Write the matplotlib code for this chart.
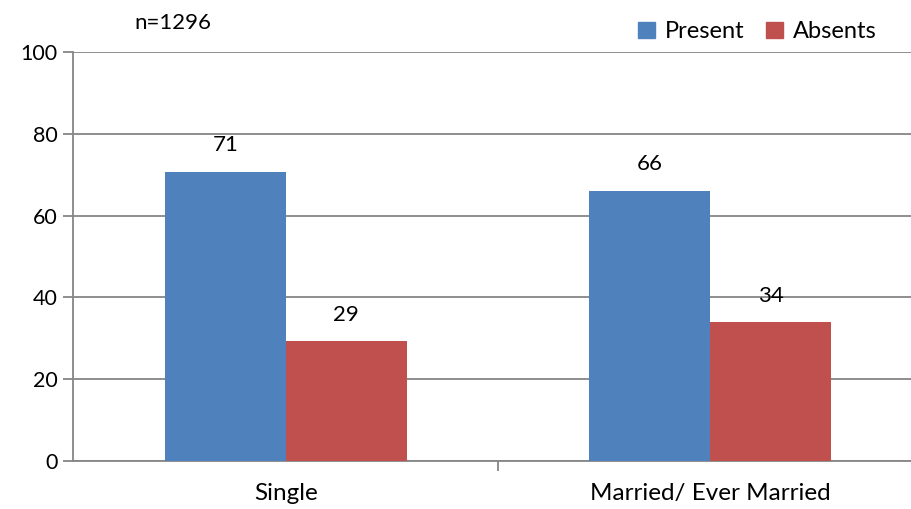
import numpy as np
import matplotlib.pyplot as plt
from matplotlib.patches import Patch

# 数据
categories = ['Single', 'Married/ Ever Married']
present = [70.7, 66.1]
absents = [29.3, 33.9]
series_names = ['Present', 'Absents']
sample_note = 'n=1296'

plt.rcParams['font.family'] = ['Lato', 'DejaVu Sans']

grid_color = '#868686'
colors = ['#4F81BD', '#C0504D']

fig = plt.figure(figsize=(9.11, 5.09), dpi=100)
ax = fig.add_axes([0.080, 0.094, 0.92, 0.804])

x = np.arange(len(categories))
w = 0.285
bars_p = ax.bar(x - w / 2, present, w, color=colors[0], zorder=3)
bars_a = ax.bar(x + w / 2, absents, w, color=colors[1], zorder=3)

# 数值标签
for bars in (bars_p, bars_a):
    for b in bars:
        h = b.get_height()
        ax.text(b.get_x() + b.get_width() / 2, h + 4, f'{h:.0f}',
                ha='center', va='bottom', fontsize=16)

ax.set_ylim(0, 100)
ax.set_xlim(-0.502, 1.474)
ax.set_yticks(np.arange(0, 101, 20))
ax.set_xticks(x)
ax.set_xticklabels(categories)
ax.set_xticks([0.5], minor=True)

ax.yaxis.grid(True, color=grid_color, linewidth=1.3, zorder=0)
ax.set_axisbelow(True)
for s in ['top', 'right']:
    ax.spines[s].set_visible(False)
for s in ['left', 'bottom']:
    ax.spines[s].set_color(grid_color)
    ax.spines[s].set_linewidth(1.3)

ax.tick_params(axis='y', which='major', length=7, width=1.3, color=grid_color,
               labelsize=15.5, pad=4)
ax.tick_params(axis='x', which='major', length=0, labelsize=17.5, pad=16)
ax.tick_params(axis='x', which='minor', length=7, width=1.3, color=grid_color)

fig.text(0.148, 0.955, sample_note, fontsize=16, ha='left', va='center')

handles = [Patch(color=c) for c in colors]
fig.legend(handles, series_names, loc='center right', bbox_to_anchor=(0.986, 0.938),
           ncol=2, frameon=False, fontsize=17, handlelength=0.7, handleheight=0.7,
           columnspacing=0.9, handletextpad=0.45)

fig.savefig('out.png', dpi=100)
